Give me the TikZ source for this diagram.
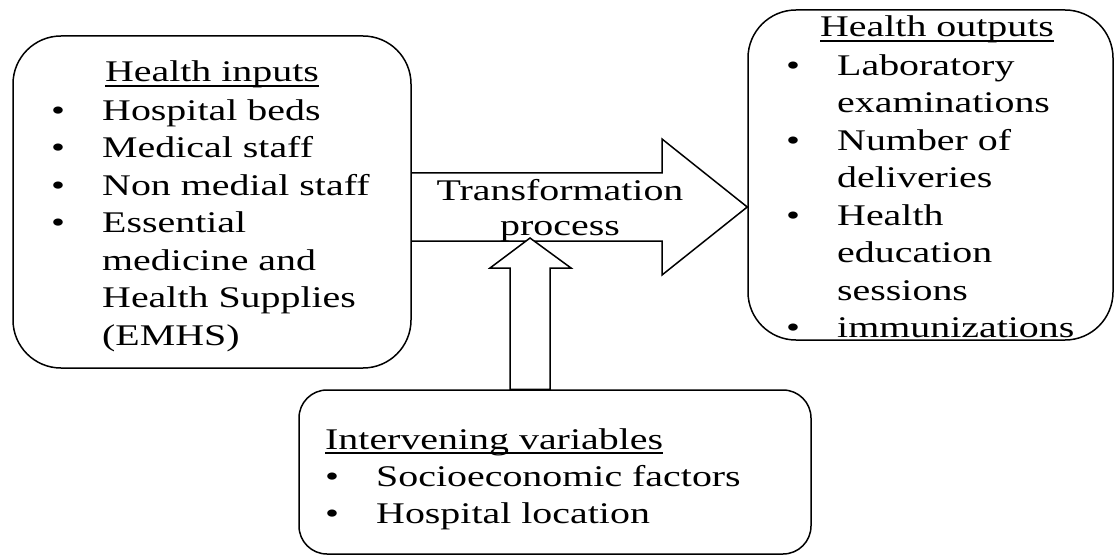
\documentclass[tikz,border=0pt]{standalone}
\usepackage{fontspec}
\setmainfont{Liberation Serif}[FakeStretch=1.33]
\usepackage{tikz}
\newcommand{\headline}[1]{\setbox0=\hbox{#1}\rlap{\rule[-4.7pt]{\wd0}{1.4pt}}\box0}
\newcommand{\itembul}{\makebox[51pt][l]{\textbullet}}
\newcommand{\itemgap}{\hspace*{51pt}}
\tikzset{
  modelbox/.style   = {draw=black, line width=1.5pt, inner sep=0pt},
  modeltext/.style  = {font=\fontsize{30}{37.5}\selectfont, inner sep=0pt},
  modellist/.style  = {modeltext, align=left, anchor=north west},
  modelhead/.style  = {modeltext, anchor=base},
  blockarrow/.style = {draw=black, line width=1.5pt, line join=miter},
}

\begin{document}
\begin{tikzpicture}[x=1pt, y=-1pt]
  \useasboundingbox (0,0) rectangle (1116,556);
  \node[modelbox, rounded corners=48pt, minimum width=398pt, minimum height=332pt] (inputs) at (212,202) {};
  \node[modelbox, rounded corners=48pt, minimum width=365pt, minimum height=330pt] (outputs) at (930.5,175) {};
  \node[modelbox, rounded corners=28pt, minimum width=512pt, minimum height=164pt] (intervening) at (555,472) {};
  \draw[blockarrow] (inputs.east |- 0,173) -- (662,173) -- (662,139) -- (outputs.west |- 0,207)
    -- (662,275) -- (662,241) -- (inputs.east |- 0,241);
  \draw[blockarrow, fill=white] (510,0 |- intervening.north) -- (510,268) -- (490,268) -- (530,238)
    -- (571,268) -- (550,268) -- (550,0 |- intervening.north) -- cycle;
  \node[modelhead] (inputshead) at (212,82) {\headline{Health inputs}};
  \node[modellist] (inputslist) at (51,93.75) {\strut\itembul Hospital beds\\
    \strut\itembul Medical staff\\ \strut\itembul Non medial staff\\ \strut\itembul Essential\\
    \strut\itemgap medicine and\\ \strut\itemgap Health Supplies\\ \strut\itemgap (EMHS)};
  \node[modelhead] (outputshead) at (937,37) {\headline{Health outputs}};
  \node[modellist] (outputslist) at (786,48.75) {\strut\itembul Laboratory\\
    \strut\itemgap examinations\\ \strut\itembul Number of\\ \strut\itemgap deliveries\\
    \strut\itembul Health\\ \strut\itemgap education\\ \strut\itemgap sessions\\
    \strut\itembul immunizations};
  \node[modelhead, anchor=base west] (intervhead) at (325,449) {\headline{Intervening variables}};
  \node[modellist] (intervlist) at (325,459.75) {\strut\itembul Socioeconomic factors\\
    \strut\itembul Hospital location};
  \node[modeltext, font=\fontsize{30}{35}\selectfont, align=center, anchor=north] (transform)
    at (560,175.5) {\strut Transformation\\ \strut process};
\end{tikzpicture}
\end{document}
